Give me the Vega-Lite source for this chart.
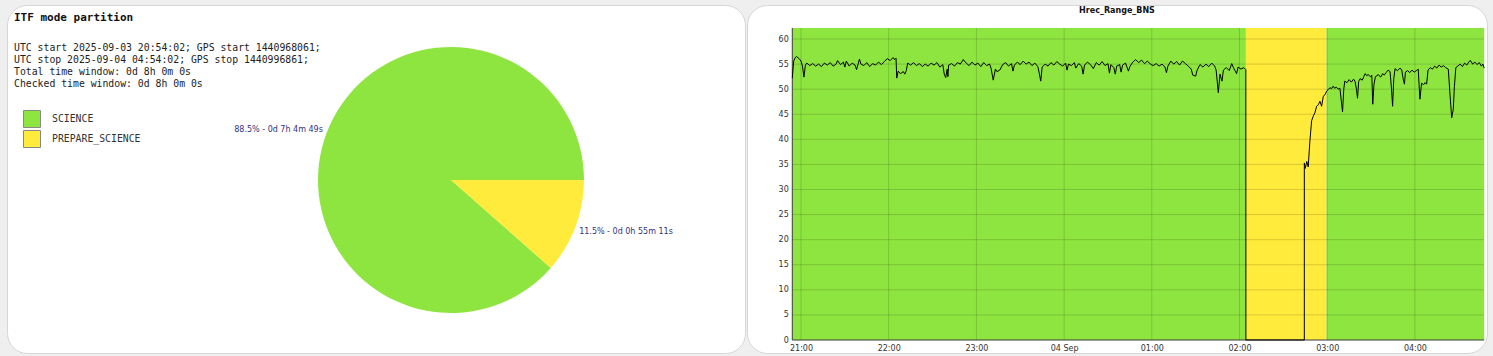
{
  "$schema": "https://vega.github.io/schema/vega-lite/v6.json",
  "background": "#efefef",
  "padding": {"left": 6, "top": 4, "right": 6, "bottom": 4},
  "autosize": {"type": "pad"},
  "spacing": 0,
  "config": {
    "view": {"stroke": null},
    "axis": {"domain": false, "ticks": false, "grid": false, "labelPadding": 4, "labelFlush": false, "labelOverlap": false, "labelFont": "DejaVu Sans", "labelFontSize": 8, "labelColor": "#333333"}
  },
  "resolve": {"scale": {"color": "independent"}, "legend": {"color": "independent"}},
  "datasets": {
    "pie": [
      {"mode": "SCIENCE", "seconds": 25489, "label": "88.5% - 0d 7h 4m 49s"},
      {"mode": "PREPARE_SCIENCE", "seconds": 3311, "label": "11.5% - 0d 0h 55m 11s"}
    ],
    "modes": [
      {"mode": "SCIENCE", "start": "2025-09-03T20:54:02", "end": "2025-09-04T02:04:22"},
      {"mode": "PREPARE_SCIENCE", "start": "2025-09-04T02:04:22", "end": "2025-09-04T02:59:33"},
      {"mode": "SCIENCE", "start": "2025-09-04T02:59:33", "end": "2025-09-04T04:47:24"}
    ],
    "hours": [
      {"t": "2025-09-03T21:00"}, {"t": "2025-09-03T22:00"}, {"t": "2025-09-03T23:00"}, {"t": "2025-09-04T00:00"},
      {"t": "2025-09-04T01:00"}, {"t": "2025-09-04T02:00"}, {"t": "2025-09-04T03:00"}, {"t": "2025-09-04T04:00"}
    ],
    "levels": [
      {"v": 5}, {"v": 10}, {"v": 15}, {"v": 20}, {"v": 25}, {"v": 30},
      {"v": 35}, {"v": 40}, {"v": 45}, {"v": 50}, {"v": 55}, {"v": 60}
    ],
    "series": [
      {"t": "2025-09-03T20:54:02", "v": 52.2},
      {"t": "2025-09-03T20:55", "v": 55.6},
      {"t": "2025-09-03T20:56", "v": 56.3},
      {"t": "2025-09-03T20:57", "v": 56.5},
      {"t": "2025-09-03T20:59", "v": 56.0},
      {"t": "2025-09-03T21:00", "v": 55.6},
      {"t": "2025-09-03T21:01", "v": 54.6},
      {"t": "2025-09-03T21:02", "v": 52.4},
      {"t": "2025-09-03T21:03", "v": 54.8},
      {"t": "2025-09-03T21:04", "v": 55.2},
      {"t": "2025-09-03T21:06", "v": 54.7},
      {"t": "2025-09-03T21:08", "v": 55.1},
      {"t": "2025-09-03T21:10", "v": 54.6},
      {"t": "2025-09-03T21:12", "v": 55.0},
      {"t": "2025-09-03T21:14", "v": 54.5},
      {"t": "2025-09-03T21:16", "v": 55.2},
      {"t": "2025-09-03T21:18", "v": 54.8},
      {"t": "2025-09-03T21:20", "v": 55.3},
      {"t": "2025-09-03T21:22", "v": 54.6},
      {"t": "2025-09-03T21:24", "v": 55.0},
      {"t": "2025-09-03T21:25", "v": 55.7},
      {"t": "2025-09-03T21:27", "v": 54.9},
      {"t": "2025-09-03T21:29", "v": 55.4},
      {"t": "2025-09-03T21:30", "v": 54.4},
      {"t": "2025-09-03T21:31", "v": 55.6},
      {"t": "2025-09-03T21:33", "v": 54.6},
      {"t": "2025-09-03T21:35", "v": 55.2},
      {"t": "2025-09-03T21:37", "v": 54.8},
      {"t": "2025-09-03T21:38", "v": 53.9},
      {"t": "2025-09-03T21:40", "v": 56.0},
      {"t": "2025-09-03T21:41", "v": 55.0},
      {"t": "2025-09-03T21:43", "v": 54.7},
      {"t": "2025-09-03T21:45", "v": 55.3},
      {"t": "2025-09-03T21:47", "v": 54.5},
      {"t": "2025-09-03T21:49", "v": 55.1},
      {"t": "2025-09-03T21:51", "v": 54.8},
      {"t": "2025-09-03T21:53", "v": 55.4},
      {"t": "2025-09-03T21:55", "v": 54.9},
      {"t": "2025-09-03T21:57", "v": 55.5},
      {"t": "2025-09-03T21:59", "v": 56.1},
      {"t": "2025-09-03T22:01", "v": 55.7},
      {"t": "2025-09-03T22:03", "v": 56.3},
      {"t": "2025-09-03T22:04", "v": 55.9},
      {"t": "2025-09-03T22:05", "v": 56.2},
      {"t": "2025-09-03T22:05:30", "v": 52.2},
      {"t": "2025-09-03T22:06:30", "v": 53.6},
      {"t": "2025-09-03T22:08", "v": 53.1},
      {"t": "2025-09-03T22:10", "v": 53.5},
      {"t": "2025-09-03T22:11", "v": 53.0},
      {"t": "2025-09-03T22:12", "v": 53.7},
      {"t": "2025-09-03T22:13", "v": 55.2},
      {"t": "2025-09-03T22:15", "v": 54.8},
      {"t": "2025-09-03T22:17", "v": 55.3},
      {"t": "2025-09-03T22:19", "v": 54.7},
      {"t": "2025-09-03T22:21", "v": 55.1},
      {"t": "2025-09-03T22:23", "v": 54.5},
      {"t": "2025-09-03T22:25", "v": 55.0},
      {"t": "2025-09-03T22:27", "v": 54.6},
      {"t": "2025-09-03T22:29", "v": 55.2},
      {"t": "2025-09-03T22:31", "v": 54.8},
      {"t": "2025-09-03T22:33", "v": 55.3},
      {"t": "2025-09-03T22:35", "v": 54.4},
      {"t": "2025-09-03T22:37", "v": 54.9},
      {"t": "2025-09-03T22:38", "v": 53.0},
      {"t": "2025-09-03T22:39", "v": 52.3},
      {"t": "2025-09-03T22:40", "v": 54.0},
      {"t": "2025-09-03T22:40:30", "v": 52.5},
      {"t": "2025-09-03T22:41", "v": 54.8},
      {"t": "2025-09-03T22:43", "v": 55.1},
      {"t": "2025-09-03T22:45", "v": 54.6},
      {"t": "2025-09-03T22:47", "v": 55.3},
      {"t": "2025-09-03T22:49", "v": 55.0},
      {"t": "2025-09-03T22:51", "v": 55.9},
      {"t": "2025-09-03T22:53", "v": 55.2},
      {"t": "2025-09-03T22:55", "v": 54.7},
      {"t": "2025-09-03T22:57", "v": 55.4},
      {"t": "2025-09-03T22:59", "v": 54.8},
      {"t": "2025-09-03T23:01", "v": 55.2},
      {"t": "2025-09-03T23:03", "v": 54.5},
      {"t": "2025-09-03T23:05", "v": 55.3},
      {"t": "2025-09-03T23:07", "v": 54.7},
      {"t": "2025-09-03T23:09", "v": 55.0},
      {"t": "2025-09-03T23:10", "v": 54.2},
      {"t": "2025-09-03T23:11:30", "v": 51.8},
      {"t": "2025-09-03T23:13", "v": 54.0},
      {"t": "2025-09-03T23:14", "v": 53.5},
      {"t": "2025-09-03T23:16", "v": 53.8},
      {"t": "2025-09-03T23:18", "v": 54.9},
      {"t": "2025-09-03T23:20", "v": 55.3},
      {"t": "2025-09-03T23:22", "v": 54.6},
      {"t": "2025-09-03T23:24", "v": 55.1},
      {"t": "2025-09-03T23:25", "v": 53.6},
      {"t": "2025-09-03T23:26", "v": 54.8},
      {"t": "2025-09-03T23:28", "v": 55.4},
      {"t": "2025-09-03T23:30", "v": 54.9},
      {"t": "2025-09-03T23:32", "v": 55.6},
      {"t": "2025-09-03T23:34", "v": 55.0},
      {"t": "2025-09-03T23:36", "v": 55.4},
      {"t": "2025-09-03T23:38", "v": 54.7},
      {"t": "2025-09-03T23:40", "v": 55.2},
      {"t": "2025-09-03T23:42", "v": 54.5},
      {"t": "2025-09-03T23:43", "v": 53.2},
      {"t": "2025-09-03T23:44", "v": 51.6},
      {"t": "2025-09-03T23:45", "v": 54.4},
      {"t": "2025-09-03T23:47", "v": 55.0},
      {"t": "2025-09-03T23:49", "v": 54.6},
      {"t": "2025-09-03T23:51", "v": 55.3},
      {"t": "2025-09-03T23:53", "v": 54.8},
      {"t": "2025-09-03T23:55", "v": 55.5},
      {"t": "2025-09-03T23:57", "v": 55.0},
      {"t": "2025-09-03T23:59", "v": 54.6},
      {"t": "2025-09-04T00:01", "v": 55.2},
      {"t": "2025-09-04T00:02", "v": 53.8},
      {"t": "2025-09-04T00:03", "v": 55.0},
      {"t": "2025-09-04T00:05", "v": 54.7},
      {"t": "2025-09-04T00:07", "v": 55.3},
      {"t": "2025-09-04T00:08", "v": 54.2},
      {"t": "2025-09-04T00:10", "v": 55.1},
      {"t": "2025-09-04T00:12", "v": 54.6},
      {"t": "2025-09-04T00:13", "v": 53.0},
      {"t": "2025-09-04T00:14", "v": 54.8},
      {"t": "2025-09-04T00:16", "v": 55.4},
      {"t": "2025-09-04T00:18", "v": 54.9},
      {"t": "2025-09-04T00:20", "v": 54.1},
      {"t": "2025-09-04T00:22", "v": 55.3},
      {"t": "2025-09-04T00:24", "v": 54.8},
      {"t": "2025-09-04T00:26", "v": 55.5},
      {"t": "2025-09-04T00:28", "v": 54.7},
      {"t": "2025-09-04T00:30", "v": 55.1},
      {"t": "2025-09-04T00:31", "v": 53.2},
      {"t": "2025-09-04T00:32", "v": 54.9},
      {"t": "2025-09-04T00:34", "v": 54.3},
      {"t": "2025-09-04T00:35", "v": 53.0},
      {"t": "2025-09-04T00:36", "v": 54.6},
      {"t": "2025-09-04T00:38", "v": 54.9},
      {"t": "2025-09-04T00:39", "v": 53.4},
      {"t": "2025-09-04T00:40", "v": 54.8},
      {"t": "2025-09-04T00:42", "v": 55.2},
      {"t": "2025-09-04T00:44", "v": 53.6},
      {"t": "2025-09-04T00:45", "v": 54.5},
      {"t": "2025-09-04T00:47", "v": 55.4},
      {"t": "2025-09-04T00:49", "v": 55.9},
      {"t": "2025-09-04T00:51", "v": 55.3},
      {"t": "2025-09-04T00:53", "v": 55.8},
      {"t": "2025-09-04T00:55", "v": 55.1},
      {"t": "2025-09-04T00:57", "v": 55.6},
      {"t": "2025-09-04T00:59", "v": 55.0},
      {"t": "2025-09-04T01:01", "v": 54.7},
      {"t": "2025-09-04T01:03", "v": 55.1},
      {"t": "2025-09-04T01:05", "v": 54.6},
      {"t": "2025-09-04T01:07", "v": 55.0},
      {"t": "2025-09-04T01:09", "v": 54.4},
      {"t": "2025-09-04T01:10", "v": 53.3},
      {"t": "2025-09-04T01:11", "v": 54.6},
      {"t": "2025-09-04T01:13", "v": 55.6},
      {"t": "2025-09-04T01:15", "v": 55.0},
      {"t": "2025-09-04T01:17", "v": 55.5},
      {"t": "2025-09-04T01:19", "v": 54.8},
      {"t": "2025-09-04T01:21", "v": 55.6},
      {"t": "2025-09-04T01:23", "v": 55.1},
      {"t": "2025-09-04T01:25", "v": 54.6},
      {"t": "2025-09-04T01:27", "v": 54.0},
      {"t": "2025-09-04T01:28", "v": 52.8},
      {"t": "2025-09-04T01:30", "v": 52.6},
      {"t": "2025-09-04T01:31", "v": 53.8},
      {"t": "2025-09-04T01:33", "v": 54.9},
      {"t": "2025-09-04T01:35", "v": 54.4},
      {"t": "2025-09-04T01:37", "v": 55.0},
      {"t": "2025-09-04T01:39", "v": 54.5},
      {"t": "2025-09-04T01:41", "v": 55.2},
      {"t": "2025-09-04T01:43", "v": 54.6},
      {"t": "2025-09-04T01:44", "v": 53.8},
      {"t": "2025-09-04T01:45:30", "v": 49.3},
      {"t": "2025-09-04T01:46:40", "v": 53.0},
      {"t": "2025-09-04T01:48", "v": 51.6},
      {"t": "2025-09-04T01:49", "v": 53.8},
      {"t": "2025-09-04T01:51", "v": 54.3},
      {"t": "2025-09-04T01:53", "v": 53.7},
      {"t": "2025-09-04T01:54:40", "v": 55.1},
      {"t": "2025-09-04T01:56", "v": 54.2},
      {"t": "2025-09-04T01:58", "v": 53.1},
      {"t": "2025-09-04T01:59", "v": 54.4},
      {"t": "2025-09-04T02:01", "v": 54.0},
      {"t": "2025-09-04T02:03", "v": 54.3},
      {"t": "2025-09-04T02:04:20", "v": 53.9},
      {"t": "2025-09-04T02:04:22", "v": 0},
      {"t": "2025-09-04T02:44:20", "v": 0},
      {"t": "2025-09-04T02:44:21", "v": 35.3},
      {"t": "2025-09-04T02:45", "v": 34.2},
      {"t": "2025-09-04T02:46", "v": 35.6},
      {"t": "2025-09-04T02:47", "v": 34.5},
      {"t": "2025-09-04T02:48:10", "v": 39.7},
      {"t": "2025-09-04T02:49:20", "v": 43.7},
      {"t": "2025-09-04T02:50:25", "v": 44.6},
      {"t": "2025-09-04T02:51:35", "v": 45.3},
      {"t": "2025-09-04T02:52:45", "v": 46.6},
      {"t": "2025-09-04T02:54", "v": 46.9},
      {"t": "2025-09-04T02:55", "v": 47.6},
      {"t": "2025-09-04T02:56:10", "v": 46.6},
      {"t": "2025-09-04T02:57:20", "v": 48.6},
      {"t": "2025-09-04T02:58:30", "v": 48.9},
      {"t": "2025-09-04T02:59:35", "v": 49.6},
      {"t": "2025-09-04T03:00:40", "v": 49.9},
      {"t": "2025-09-04T03:01:50", "v": 50.3},
      {"t": "2025-09-04T03:03", "v": 50.1},
      {"t": "2025-09-04T03:04:05", "v": 50.6},
      {"t": "2025-09-04T03:05", "v": 50.2},
      {"t": "2025-09-04T03:06:20", "v": 50.4},
      {"t": "2025-09-04T03:07:30", "v": 50.0},
      {"t": "2025-09-04T03:08:40", "v": 50.2},
      {"t": "2025-09-04T03:09:30", "v": 48.0},
      {"t": "2025-09-04T03:10:30", "v": 45.5},
      {"t": "2025-09-04T03:11:20", "v": 50.0},
      {"t": "2025-09-04T03:12", "v": 51.6},
      {"t": "2025-09-04T03:13:30", "v": 51.3},
      {"t": "2025-09-04T03:15", "v": 51.9},
      {"t": "2025-09-04T03:16:30", "v": 51.4},
      {"t": "2025-09-04T03:18", "v": 52.0},
      {"t": "2025-09-04T03:19", "v": 51.6},
      {"t": "2025-09-04T03:20", "v": 50.0},
      {"t": "2025-09-04T03:20:45", "v": 48.2},
      {"t": "2025-09-04T03:21:30", "v": 51.5},
      {"t": "2025-09-04T03:22:30", "v": 52.1},
      {"t": "2025-09-04T03:24", "v": 51.8},
      {"t": "2025-09-04T03:25", "v": 52.5},
      {"t": "2025-09-04T03:26", "v": 53.1},
      {"t": "2025-09-04T03:27", "v": 52.7},
      {"t": "2025-09-04T03:28", "v": 52.9},
      {"t": "2025-09-04T03:29:30", "v": 52.5},
      {"t": "2025-09-04T03:30:30", "v": 52.8},
      {"t": "2025-09-04T03:31:10", "v": 47.0},
      {"t": "2025-09-04T03:32", "v": 51.0},
      {"t": "2025-09-04T03:33", "v": 52.5},
      {"t": "2025-09-04T03:35", "v": 52.9},
      {"t": "2025-09-04T03:36:30", "v": 52.4},
      {"t": "2025-09-04T03:38", "v": 53.1},
      {"t": "2025-09-04T03:39", "v": 52.8},
      {"t": "2025-09-04T03:40:15", "v": 53.3},
      {"t": "2025-09-04T03:41:40", "v": 53.8},
      {"t": "2025-09-04T03:43", "v": 53.5},
      {"t": "2025-09-04T03:44", "v": 50.0},
      {"t": "2025-09-04T03:44:45", "v": 46.6},
      {"t": "2025-09-04T03:45:30", "v": 52.0},
      {"t": "2025-09-04T03:46:25", "v": 54.1},
      {"t": "2025-09-04T03:48", "v": 53.7},
      {"t": "2025-09-04T03:49:50", "v": 54.2},
      {"t": "2025-09-04T03:51", "v": 53.8},
      {"t": "2025-09-04T03:52", "v": 52.0},
      {"t": "2025-09-04T03:52:50", "v": 51.0},
      {"t": "2025-09-04T03:53:30", "v": 53.4},
      {"t": "2025-09-04T03:55", "v": 53.7},
      {"t": "2025-09-04T03:56:30", "v": 53.3},
      {"t": "2025-09-04T03:58", "v": 53.8},
      {"t": "2025-09-04T03:59:30", "v": 53.4},
      {"t": "2025-09-04T04:01", "v": 53.7},
      {"t": "2025-09-04T04:02:15", "v": 54.0},
      {"t": "2025-09-04T04:02:50", "v": 51.0},
      {"t": "2025-09-04T04:03:25", "v": 48.0},
      {"t": "2025-09-04T04:04:35", "v": 51.2},
      {"t": "2025-09-04T04:06", "v": 50.9},
      {"t": "2025-09-04T04:07", "v": 51.3},
      {"t": "2025-09-04T04:08", "v": 51.0},
      {"t": "2025-09-04T04:09", "v": 53.8},
      {"t": "2025-09-04T04:10:30", "v": 54.3},
      {"t": "2025-09-04T04:12", "v": 54.0},
      {"t": "2025-09-04T04:13:30", "v": 54.6},
      {"t": "2025-09-04T04:15", "v": 54.2},
      {"t": "2025-09-04T04:16:30", "v": 54.8},
      {"t": "2025-09-04T04:18", "v": 54.4},
      {"t": "2025-09-04T04:19:30", "v": 54.7},
      {"t": "2025-09-04T04:21", "v": 54.3},
      {"t": "2025-09-04T04:22:50", "v": 54.0},
      {"t": "2025-09-04T04:24", "v": 49.0},
      {"t": "2025-09-04T04:25:10", "v": 44.3},
      {"t": "2025-09-04T04:26:15", "v": 46.0},
      {"t": "2025-09-04T04:27", "v": 50.5},
      {"t": "2025-09-04T04:28", "v": 54.3},
      {"t": "2025-09-04T04:29:20", "v": 54.6},
      {"t": "2025-09-04T04:31", "v": 55.0},
      {"t": "2025-09-04T04:32:30", "v": 54.5},
      {"t": "2025-09-04T04:34", "v": 55.2},
      {"t": "2025-09-04T04:35:30", "v": 54.8},
      {"t": "2025-09-04T04:37", "v": 55.5},
      {"t": "2025-09-04T04:38", "v": 55.7},
      {"t": "2025-09-04T04:39:30", "v": 55.0},
      {"t": "2025-09-04T04:41", "v": 55.4},
      {"t": "2025-09-04T04:42:30", "v": 54.9},
      {"t": "2025-09-04T04:44", "v": 55.3},
      {"t": "2025-09-04T04:45:30", "v": 54.6},
      {"t": "2025-09-04T04:46:30", "v": 55.0},
      {"t": "2025-09-04T04:47:24", "v": 54.2}
    ]
  },
  "hconcat": [
    {
      "width": 738,
      "height": 348,
      "view": {"fill": "white", "stroke": "#d6d6d6", "cornerRadius": 20},
      "title": {
        "text": "\u00a0ITF mode partition",
        "subtitle": [
          "UTC start 2025-09-03 20:54:02; GPS start 1440968061;",
          "UTC stop 2025-09-04 04:54:02; GPS stop 1440996861;",
          "Total time window: 0d 8h 0m 0s",
          "Checked time window: 0d 8h 0m 0s"
        ],
        "anchor": "start",
        "frame": "group",
        "dx": 7,
        "offset": -84,
        "font": "DejaVu Sans Mono",
        "fontSize": 11,
        "fontWeight": "bold",
        "color": "#111111",
        "subtitleFont": "DejaVu Sans Mono",
        "subtitleFontSize": 9.8,
        "subtitleColor": "#222222",
        "subtitleLineHeight": 12,
        "subtitlePadding": 20
      },
      "data": {"name": "pie"},
      "encoding": {
        "theta": {"field": "seconds", "type": "quantitative", "stack": true, "scale": {"range": [1.5708, 7.854]}},
        "order": {"field": "mode", "sort": "ascending"}
      },
      "layer": [
        {
          "mark": {"type": "arc", "outerRadius": 133, "xOffset": 75, "yOffset": 1},
          "encoding": {
            "color": {
              "field": "mode",
              "type": "nominal",
              "scale": {"domain": ["SCIENCE", "PREPARE_SCIENCE"], "range": ["#8ee53f", "#ffeb3b"]},
              "legend": {
                "title": null,
                "orient": "none",
                "legendX": 16,
                "legendY": 105,
                "padding": 0,
                "symbolType": "square",
                "symbolSize": 289,
                "symbolStrokeColor": "#888888",
                "symbolStrokeWidth": 1,
                "labelFont": "DejaVu Sans Mono",
                "labelFontSize": 9.8,
                "labelColor": "#333333",
                "labelOffset": 11,
                "rowPadding": -2.5
              }
            }
          }
        },
        {
          "mark": {
            "type": "text",
            "radius": 137,
            "xOffset": 75,
            "yOffset": 1,
            "font": "DejaVu Sans",
            "fontSize": 8,
            "color": "#32327e",
            "align": {"expr": "datum.mode == 'SCIENCE' ? 'right' : 'left'"},
            "baseline": {"expr": "datum.mode == 'SCIENCE' ? 'alphabetic' : 'top'"}
          },
          "encoding": {
            "detail": {"field": "mode"},
            "text": {"field": "label"}
          }
        }
      ]
    },
    {
      "width": 740,
      "height": 348,
      "view": {"fill": "white", "stroke": "#d6d6d6", "cornerRadius": 20},
      "title": {
        "text": "Hrec_Range_BNS",
        "anchor": "middle",
        "frame": "group",
        "offset": -10,
        "font": "DejaVu Sans",
        "fontSize": 8,
        "fontWeight": "bold",
        "color": "#111111"
      },
      "layer": [
        {
          "data": {"name": "modes", "format": {"parse": {"start": "date", "end": "date"}}},
          "mark": {"type": "rect"},
          "encoding": {
            "x": {
              "field": "start",
              "type": "temporal",
              "axis": {
                "title": null,
                "values": [
                  {"year": 2025, "month": 9, "date": 3, "hours": 21},
                  {"year": 2025, "month": 9, "date": 3, "hours": 22},
                  {"year": 2025, "month": 9, "date": 3, "hours": 23},
                  {"year": 2025, "month": 9, "date": 4, "hours": 0},
                  {"year": 2025, "month": 9, "date": 4, "hours": 1},
                  {"year": 2025, "month": 9, "date": 4, "hours": 2},
                  {"year": 2025, "month": 9, "date": 4, "hours": 3},
                  {"year": 2025, "month": 9, "date": 4, "hours": 4}
                ],
                "tickCount": 20,
                "labelExpr": "hours(datum.value) == 0 ? timeFormat(datum.value, '%d %b') : timeFormat(datum.value, '%H:%M')",
                "offset": -13,
                "labelOverlap": false
              },
              "scale": {
                "domain": [
                  {"year": 2025, "month": 9, "date": 3, "hours": 20, "minutes": 23, "seconds": 3},
                  {"year": 2025, "month": 9, "date": 4, "hours": 4, "minutes": 49, "seconds": 19}
                ],
                "nice": false
              }
            },
            "x2": {"field": "end"},
            "y": {
              "datum": 0,
              "type": "quantitative",
              "axis": {"title": null, "values": [0, 5, 10, 15, 20, 25, 30, 35, 40, 45, 50, 55, 60], "tickCount": 20, "offset": -45.3, "labelOverlap": false},
              "scale": {"domain": [-2.59, 66.78], "nice": false, "zero": false}
            },
            "y2": {"datum": 62.2},
            "color": {
              "field": "mode",
              "type": "nominal",
              "scale": {"domain": ["SCIENCE", "PREPARE_SCIENCE"], "range": ["#8ee53f", "#ffeb3b"]},
              "legend": null
            }
          }
        },
        {
          "data": {"name": "hours", "format": {"parse": {"t": "date"}}},
          "mark": {"type": "rule", "color": "#000000", "opacity": 0.15, "strokeWidth": 1},
          "encoding": {
            "x": {"field": "t", "type": "temporal", "title": null},
            "y": {"datum": 0, "type": "quantitative", "title": null},
            "y2": {"datum": 62.2}
          }
        },
        {
          "data": {"name": "levels"},
          "mark": {"type": "rule", "color": "#000000", "opacity": 0.15, "strokeWidth": 1},
          "encoding": {
            "y": {"field": "v", "type": "quantitative", "title": null},
            "x": {"datum": {"year": 2025, "month": 9, "date": 3, "hours": 20, "minutes": 54, "seconds": 2}, "type": "temporal", "title": null},
            "x2": {"datum": {"year": 2025, "month": 9, "date": 4, "hours": 4, "minutes": 47, "seconds": 24}}
          }
        },
        {
          "data": {"values": [{}]},
          "mark": {"type": "rule", "color": "#3a3a3a", "strokeWidth": 1},
          "encoding": {
            "x": {"datum": {"year": 2025, "month": 9, "date": 3, "hours": 20, "minutes": 54, "seconds": 2}, "type": "temporal", "title": null},
            "y": {"datum": 0, "type": "quantitative", "title": null},
            "y2": {"datum": 62.2}
          }
        },
        {
          "data": {"values": [{}]},
          "mark": {"type": "rule", "color": "#3a3a3a", "strokeWidth": 1},
          "encoding": {
            "y": {"datum": 0, "type": "quantitative", "title": null},
            "x": {"datum": {"year": 2025, "month": 9, "date": 3, "hours": 20, "minutes": 54, "seconds": 2}, "type": "temporal", "title": null},
            "x2": {"datum": {"year": 2025, "month": 9, "date": 4, "hours": 4, "minutes": 47, "seconds": 24}}
          }
        },
        {
          "data": {"name": "series", "format": {"parse": {"t": "date"}}},
          "mark": {"type": "line", "color": "#000000", "strokeWidth": 1},
          "encoding": {
            "x": {
              "field": "t",
              "type": "temporal",
              "axis": {
                "title": null,
                "values": [
                  {"year": 2025, "month": 9, "date": 3, "hours": 21},
                  {"year": 2025, "month": 9, "date": 3, "hours": 22},
                  {"year": 2025, "month": 9, "date": 3, "hours": 23},
                  {"year": 2025, "month": 9, "date": 4, "hours": 0},
                  {"year": 2025, "month": 9, "date": 4, "hours": 1},
                  {"year": 2025, "month": 9, "date": 4, "hours": 2},
                  {"year": 2025, "month": 9, "date": 4, "hours": 3},
                  {"year": 2025, "month": 9, "date": 4, "hours": 4}
                ],
                "tickCount": 20,
                "labelExpr": "hours(datum.value) == 0 ? timeFormat(datum.value, '%d %b') : timeFormat(datum.value, '%H:%M')",
                "offset": -13,
                "labelOverlap": false
              }
            },
            "y": {
              "field": "v",
              "type": "quantitative",
              "axis": {"title": null, "values": [0, 5, 10, 15, 20, 25, 30, 35, 40, 45, 50, 55, 60], "tickCount": 20, "offset": -45.3, "labelOverlap": false}
            }
          }
        }
      ]
    }
  ]
}
